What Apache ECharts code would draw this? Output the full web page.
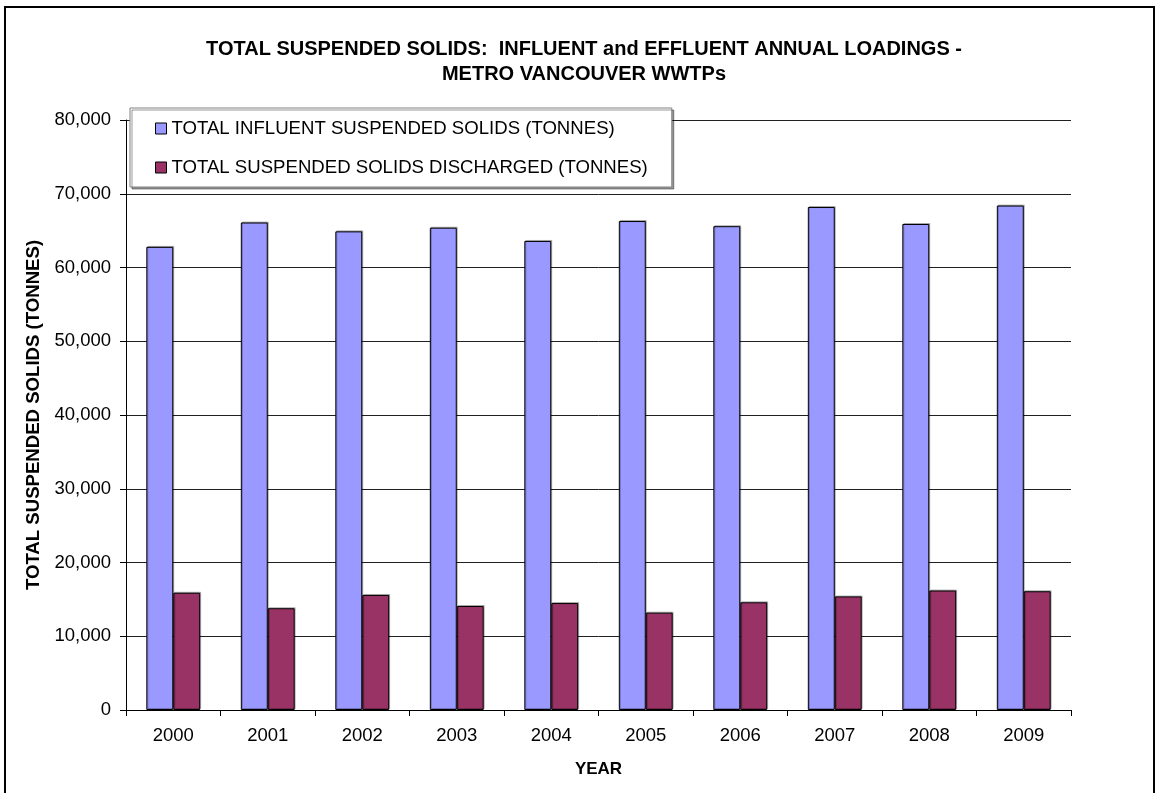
<!DOCTYPE html>
<html>
<head>
<meta charset="utf-8">
<script src="https://cdn.jsdelivr.net/npm/echarts@6/dist/echarts.min.js"></script>
<style>html,body{margin:0;padding:0;background:#fff}#c{width:1156px;height:793px}</style>
</head>
<body>
<div id="c"></div>
<script>
const years = ["2000","2001","2002","2003","2004","2005","2006","2007","2008","2009"];
const influent = [62800, 66100, 64900, 65400, 63600, 66300, 65600, 68200, 65900, 68400];
const discharged = [15900, 13800, 15600, 14100, 14500, 13200, 14600, 15400, 16200, 16100];
const yTicks = { min: 0, max: 80000, interval: 10000 };

const font = "Arial, 'Liberation Sans', sans-serif";
const chart = echarts.init(document.getElementById("c"));
chart.setOption({
  animation: false,
  textStyle: { fontFamily: font, color: "#000" },
  title: {
    text: "TOTAL SUSPENDED SOLIDS:  INFLUENT and EFFLUENT ANNUAL LOADINGS -\nMETRO VANCOUVER WWTPs",
    left: 579, top: 32, textAlign: "center",
    textStyle: { fontFamily: font, fontSize: 20, fontWeight: "bold", color: "#000", lineHeight: 25 }
  },
  legend: {
    orient: "vertical", left: 130, top: 108,
    padding: [11, 24, 10, 25], itemGap: 20,
    backgroundColor: "#fff", borderColor: "#808080", borderWidth: 1,
    shadowColor: "rgba(0,0,0,0.4)", shadowOffsetX: 2, shadowOffsetY: 2, shadowBlur: 0,
    icon: "rect", itemWidth: 11, itemHeight: 11,
    itemStyle: { borderColor: "#000", borderWidth: 1 },
    textStyle: { fontFamily: font, fontSize: 18.6, color: "#000" },
    data: ["TOTAL INFLUENT SUSPENDED SOLIDS (TONNES)", "TOTAL SUSPENDED SOLIDS DISCHARGED (TONNES)"]
  },
  grid: { left: 126, right: 85, top: 120, bottom: 83 },
  xAxis: {
    type: "category", data: years,
    name: "YEAR", nameLocation: "middle", nameGap: 51,
    nameTextStyle: { fontFamily: font, fontSize: 17, fontWeight: "bold", color: "#000" },
    axisLine: { lineStyle: { color: "#000", width: 1 } },
    axisTick: { show: true, length: 6, lineStyle: { color: "#000" } },
    axisLabel: { fontFamily: font, fontSize: 18.5, color: "#000", margin: 16 }
  },
  yAxis: {
    type: "value", min: yTicks.min, max: yTicks.max, interval: yTicks.interval,
    name: "TOTAL SUSPENDED SOLIDS (TONNES)", nameLocation: "middle", nameGap: 78,
    nameTextStyle: { fontFamily: font, fontSize: 18.6, fontWeight: "bold", color: "#000" },
    axisLine: { show: true, lineStyle: { color: "#000", width: 1 } },
    axisTick: { show: true, length: 6, lineStyle: { color: "#000" } },
    axisLabel: { fontFamily: font, fontSize: 18.5, color: "#000", margin: 15,
      formatter: v => v.toLocaleString("en-US") },
    splitLine: { lineStyle: { color: "#202020", width: 1 } }
  },
  series: [
    { name: "TOTAL INFLUENT SUSPENDED SOLIDS (TONNES)", type: "bar", data: influent,
      barGap: "0%", barCategoryGap: "43%",
      itemStyle: { color: "#9999FF", borderColor: "#000", borderWidth: 1,
        shadowColor: "rgba(0,0,0,0.25)", shadowOffsetX: 1, shadowOffsetY: -1 } },
    { name: "TOTAL SUSPENDED SOLIDS DISCHARGED (TONNES)", type: "bar", data: discharged,
      itemStyle: { color: "#993366", borderColor: "#000", borderWidth: 1,
        shadowColor: "rgba(0,0,0,0.25)", shadowOffsetX: 1, shadowOffsetY: -1 } }
  ],
  graphic: [{
    type: "rect", silent: true, z: 100,
    shape: { x: 5, y: 7, width: 1149, height: 800 },
    style: { fill: null, stroke: "#000", lineWidth: 2 }
  }]
});
window.addEventListener("resize", () => chart.resize());
</script>
</body>
</html>
